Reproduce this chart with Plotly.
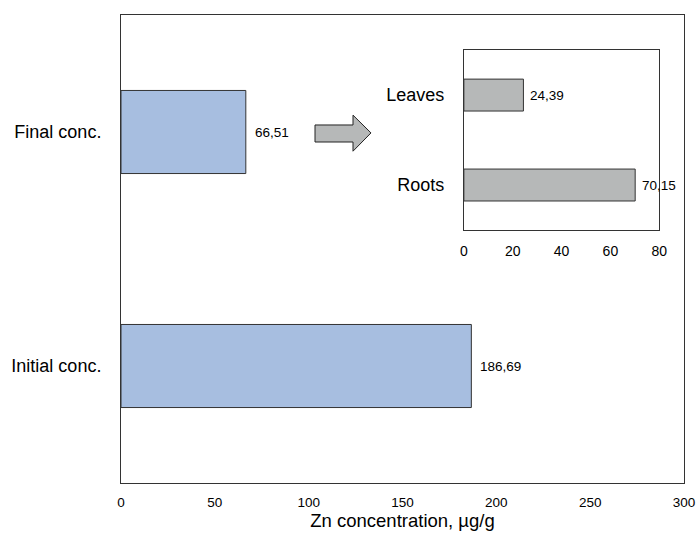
import plotly.graph_objects as go

main_cats = ["Initial conc.", "Final conc."]
main_vals = [186.69, 66.51]
main_labels = ["186,69", "66,51"]

inset_cats = ["Roots", "Leaves"]
inset_vals = [70.15, 24.39]
inset_labels = ["70,15", "24,39"]

main_ticks = [0, 50, 100, 150, 200, 250, 300]
inset_ticks = [0, 20, 40, 60, 80]

FONT = "Liberation Sans, Arial, sans-serif"

fig = go.Figure()
fig.add_trace(go.Bar(
    x=main_vals, y=main_cats, orientation="h",
    marker=dict(color="#A7BEE0", line=dict(color="#333333", width=1)),
    width=0.355, xaxis="x", yaxis="y", hoverinfo="skip",
))
fig.add_trace(go.Bar(
    x=inset_vals, y=inset_cats, orientation="h",
    marker=dict(color="#B6B8B8", line=dict(color="#333333", width=1)),
    width=0.355, xaxis="x2", yaxis="y2", hoverinfo="skip",
))

annotations = []
for v, c, t in zip(main_vals, main_cats, main_labels):
    annotations.append(dict(x=v, y=c, xref="x", yref="y", text=t, showarrow=False,
                            xanchor="left", yanchor="middle", xshift=7,
                            font=dict(size=13.5, color="black", family=FONT)))
for v, c, t in zip(inset_vals, inset_cats, inset_labels):
    annotations.append(dict(x=v, y=c, xref="x2", yref="y2", text=t, showarrow=False,
                            xanchor="left", yanchor="middle", xshift=5,
                            font=dict(size=13.5, color="black", family=FONT)))

# arrow geometry in paper coordinates
ax0, ax1, ax2 = 0.3446, 0.4121, 0.4440
bt, bb, ht, hb, yc = 0.765, 0.7286, 0.786, 0.709, 0.748
path = (f"M {ax0},{bb} L {ax1},{bb} L {ax1},{hb} L {ax2},{yc} "
        f"L {ax1},{ht} L {ax1},{bt} L {ax0},{bt} Z")

fig.update_layout(
    width=700, height=534,
    margin=dict(l=121, r=16, t=15, b=51, autoexpand=False),
    paper_bgcolor="white", plot_bgcolor="white",
    showlegend=False,
    font=dict(family=FONT, color="black"),
    xaxis=dict(domain=[0, 1], range=[0, 300], tickvals=main_ticks, automargin=False,
               showgrid=False, zeroline=False, showline=True, mirror=True,
               linecolor="#333333", linewidth=1, ticks="",
               tickfont=dict(size=13.5), ticklabelstandoff=7,
               title=dict(text="Zn concentration, µg/g", font=dict(size=18.5), standoff=4)),
    yaxis=dict(domain=[0, 1], range=[-0.5, 1.5], showgrid=False, zeroline=False,
               automargin=False,
               showline=True, mirror=True, linecolor="#333333", linewidth=1,
               ticks="", tickfont=dict(size=18), ticklabelstandoff=15),
    xaxis2=dict(domain=[0.609, 0.956], anchor="y2", range=[0, 80], automargin=False,
                tickvals=inset_ticks, showgrid=False, zeroline=False,
                showline=True, mirror=True, linecolor="#333333", linewidth=1,
                ticks="", tickfont=dict(size=14), ticklabelstandoff=8),
    yaxis2=dict(domain=[0.5406, 0.925], anchor="x2", range=[-0.5, 1.5], automargin=False,
                showgrid=False, zeroline=False, showline=True, mirror=True,
                linecolor="#333333", linewidth=1, ticks="",
                tickfont=dict(size=18), ticklabelstandoff=15),
    shapes=[dict(type="path", xref="paper", yref="paper", path=path,
                 fillcolor="#B6B8B8", line=dict(color="#222222", width=1))],
    annotations=annotations,
)

fig.write_html("out.html", config={"displayModeBar": False},
               post_script="document.body.style.margin='0';document.body.style.overflow='hidden';")
